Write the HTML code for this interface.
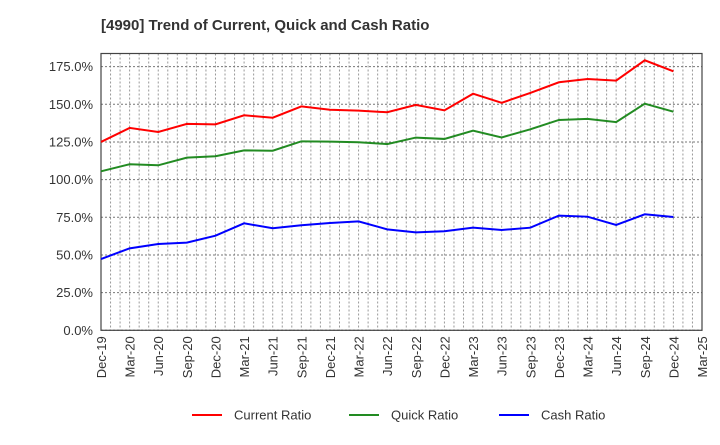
<!DOCTYPE html>
<html><head><meta charset="utf-8"><style>
body{margin:0;background:#fff;width:720px;height:440px;overflow:hidden;font-family:"Liberation Sans",sans-serif;}
svg text{font-family:"Liberation Sans",sans-serif;}
</style></head><body>
<svg id="chart" width="720" height="440">
<text x="101" y="30" font-size="15" font-weight="bold" fill="#333">[4990]  Trend of Current, Quick and Cash Ratio</text>
<g id="grid"></g><g id="axes"></g><g id="series"></g>
<g id="legend"></g>
</svg>
<script>
const categories=["Dec-19","Mar-20","Jun-20","Sep-20","Dec-20","Mar-21","Jun-21","Sep-21","Dec-21","Mar-22","Jun-22","Sep-22","Dec-22","Mar-23","Jun-23","Sep-23","Dec-23","Mar-24","Jun-24","Sep-24","Dec-24"];
const tickLabels=["Dec-19","Mar-20","Jun-20","Sep-20","Dec-20","Mar-21","Jun-21","Sep-21","Dec-21","Mar-22","Jun-22","Sep-22","Dec-22","Mar-23","Jun-23","Sep-23","Dec-23","Mar-24","Jun-24","Sep-24","Dec-24","Mar-25"];
const yTicks=[0,25,50,75,100,125,150,175];
const currentRatio=[125,134.3,131.6,137,136.7,142.7,141.1,148.6,146.4,145.8,144.7,149.6,146,157,151,157.5,164.6,166.8,165.7,179.2,171.9];
const quickRatio=[105.5,110.2,109.5,114.6,115.5,119.4,119.2,125.4,125.2,124.8,123.6,127.9,127,132.5,128,133.4,139.6,140.3,138.2,150.4,145.1];
const cashRatio=[47.3,54.4,57.3,58.2,62.8,71,67.7,69.7,71.2,72.3,67,65,65.7,68.1,66.6,68.1,76.1,75.4,69.9,77,75.2];
const seriesNames=["Current Ratio","Quick Ratio","Cash Ratio"];
const NS="http://www.w3.org/2000/svg";
const L=101,R=702,T=53.5,B=330.3,yMax=183.7;
const nQ=tickLabels.length-1;
const x=i=>L+(R-L)*i/nQ;
const y=v=>B-(B-T)*v/yMax;
function mk(tag,attrs,parent){const e=document.createElementNS(NS,tag);for(const k in attrs)e.setAttribute(k,attrs[k]);parent.appendChild(e);return e;}
const grid=document.getElementById('grid'),axes=document.getElementById('axes'),ser=document.getElementById('series'),leg=document.getElementById('legend');
for(let m=1;m<nQ*3;m++){const xx=L+(R-L)*m/(nQ*3);
const g=mk('line',{x1:xx,x2:xx,y1:T,y2:B,stroke:'#999','stroke-dasharray':'2,2','stroke-width':1},grid);

}
yTicks.forEach(v=>{
const g=mk('line',{x1:L,x2:R,y1:y(v),y2:y(v),stroke:'#777','stroke-dasharray':'2,2','stroke-width':1},grid);


const t=mk('text',{x:L-8,y:y(v)+4.5,'text-anchor':'end','font-size':13,fill:'#333'},axes);
t.textContent=v.toFixed(1)+'%';

});
const box=mk('rect',{x:L,y:T,width:R-L,height:B-T,fill:'none',stroke:'#444','stroke-width':1.2},axes);


tickLabels.forEach((lb,i)=>{
const t=mk('text',{x:0,y:0,'text-anchor':'end','font-size':13,fill:'#333',transform:`translate(${x(i)+5},${B+6}) rotate(-90)`},axes);
t.textContent=lb;

});
const colors=['#ff0000','#228b22','#0000ff'];
[currentRatio,quickRatio,cashRatio].forEach((arr,s)=>{
const p=mk('polyline',{points:arr.map((v,i)=>x(i)+','+y(v)).join(' '),fill:'none',stroke:colors[s],'stroke-width':2},ser);


const lx=[192,349,499][s];
const l=mk('line',{x1:lx,x2:lx+30,y1:415,y2:415,stroke:colors[s],'stroke-width':2},leg);


const t=mk('text',{x:lx+42,y:419.5,'font-size':13,fill:'#333'},leg);
t.textContent=seriesNames[s];

});
</script>
</body></html>
